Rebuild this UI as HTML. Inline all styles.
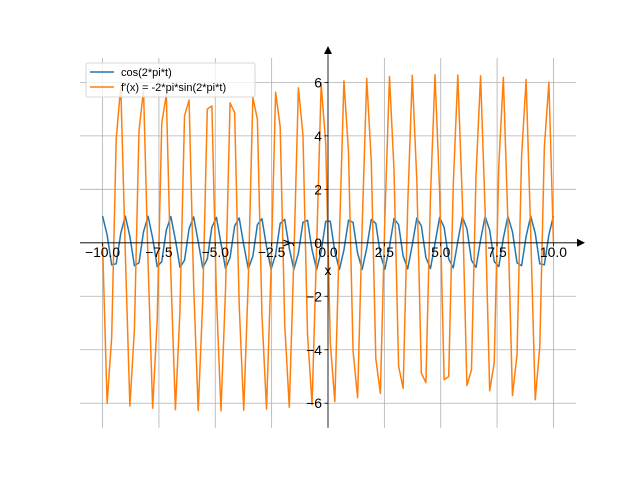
<!DOCTYPE html>
<html><head><meta charset="utf-8"><style>
body{margin:0;background:#fff}
svg{display:block;font-family:"Liberation Sans","DejaVu Sans",sans-serif}
</style></head><body>
<svg id="s" width="640" height="480" viewBox="0 0 640 480" xmlns="http://www.w3.org/2000/svg">
<rect width="640" height="480" fill="#fff"/>
<g id="grid" stroke="#b0b0b0" stroke-width="0.8"></g>
<g id="series" fill="none" stroke-width="1.5" stroke-linejoin="round"></g>
<g stroke="#000" stroke-width="0.8">
<line x1="80" y1="242.8" x2="583" y2="242.8"/>
<line x1="328" y1="427.7" x2="328" y2="52"/>
</g>
<polygon points="585,242.8 577,238.8 577,246.8" fill="#000"/>
<polygon points="328,46 324,54 332,54" fill="#000"/>
<g id="ticks" stroke="#000" stroke-width="0.8"></g>
<g id="labels" font-size="13.9" fill="#000"></g>
<text x="328" y="275" font-size="13.9" text-anchor="middle">x</text>
<text x="0" y="0" font-size="13.9" text-anchor="middle" transform="translate(291,243) rotate(-90)">y</text>
<g>
<rect x="86" y="63" width="169" height="34" fill="#fff" fill-opacity="0.8" stroke="#ccc" stroke-width="0.8" rx="2"/>
<line x1="90" y1="72" x2="114" y2="72" stroke="#1f77b4" stroke-width="1.5"/>
<line x1="90" y1="87" x2="114" y2="87" stroke="#ff7f0e" stroke-width="1.5"/>
<text x="121" y="76" font-size="11">cos(2*pi*t)</text>
<text x="121" y="91" font-size="11">f'(x) = -2*pi*sin(2*pi*t)</text>
</g>
</svg>
<script>
var X=function(v){return 328+v*22.545};
var Y=function(v){return 242.8-v*26.74};
var ns="http://www.w3.org/2000/svg";
function el(p,t,a,txt){var e=document.createElementNS(ns,t);for(var k in a)e.setAttribute(k,a[k]);if(txt!==undefined)e.textContent=txt;document.getElementById(p).appendChild(e);}
var xt=[-10,-7.5,-5,-2.5,0,2.5,5,7.5,10];
xt.forEach(function(v){el("grid","line",{x1:X(v),x2:X(v),y1:58,y2:427.7});
el("ticks","line",{x1:X(v),x2:X(v),y1:242.8,y2:246.3});
el("labels","text",{x:X(v),y:257,"text-anchor":"middle"},(v<0?"\u2212":"")+Math.abs(v).toFixed(1));});
[-6,-4,-2,0,2,4,6].forEach(function(v){el("grid","line",{x1:80,x2:576,y1:Y(v),y2:Y(v)});
el("ticks","line",{x1:324.5,x2:328,y1:Y(v),y2:Y(v)});
el("labels","text",{x:322,y:Y(v)+5,"text-anchor":"end"},(v<0?"\u2212":"")+Math.abs(v));});
var a="",b="";
for(var i=0;i<100;i++){var t=-10+20*i/99;var c=Math.cos(2*Math.PI*t),d=-2*Math.PI*Math.sin(2*Math.PI*t);
a+=(i?"L":"M")+X(t).toFixed(2)+","+Y(c).toFixed(2);b+=(i?"L":"M")+X(t).toFixed(2)+","+Y(d).toFixed(2);}
el("series","path",{d:a,stroke:"#1f77b4"});
el("series","path",{d:b,stroke:"#ff7f0e"});
</script>
</body></html>
